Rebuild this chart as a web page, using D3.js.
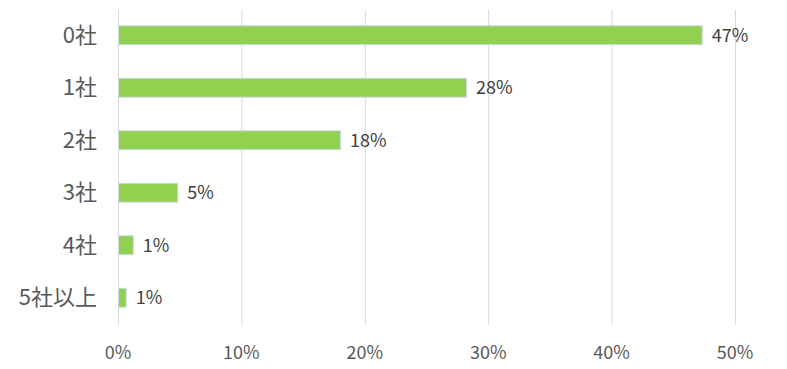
<!DOCTYPE html>
<meta charset="utf-8">
<style>
    body { margin: 0; background: #fff; }
    .grid line { stroke: #d9d9d9; stroke-width: 1; }
    .bar { fill: #92d050; stroke: #c9dbe8; stroke-width: 1; }
    .cat { font-family: "Noto Sans CJK JP", sans-serif; font-size: 22px; fill: #595959; }
    .val { font-family: "Noto Sans CJK JP", sans-serif; font-size: 18px; fill: #404040; }
    .tick-label { font-family: "Noto Sans CJK JP", sans-serif; font-size: 18px; fill: #595959; }
</style>
<body>
<script src="https://d3js.org/d3.v7.min.js"></script>
<script>
    // data
    let categories = ["0社", "1社", "2社", "3社", "4社", "5社以上"];
    let values = [47.3, 28.2, 18.0, 4.8, 1.2, 0.62];
    let valueLabels = ["47%", "28%", "18%", "5%", "1%", "1%"];
    let ticks = [0, 10, 20, 30, 40, 50];

    let width = 787, height = 369;
    let margin = { top: 10, right: 52, bottom: 44, left: 118 };

    let svg = d3.select("body").append("svg")
        .attr("width", width)
        .attr("height", height);

    let x = d3.scaleLinear()
        .domain([0, 50])
        .range([margin.left, width - margin.right]);

    let y = d3.scaleBand()
        .domain(categories)
        .range([9, 324])
        .paddingInner(0.64)
        .paddingOuter(0.32);

    svg.append("g")
        .attr("class", "grid")
        .selectAll("line")
        .data(ticks)
        .enter().append("line")
        .attr("x1", d => x(d) + 0.5)
        .attr("x2", d => x(d) + 0.5)
        .attr("y1", margin.top)
        .attr("y2", height - margin.bottom);

    svg.selectAll(".bar")
        .data(values)
        .enter().append("rect")
        .attr("class", "bar")
        .attr("x", x(0) + 0.5)
        .attr("y", (d, i) => y(categories[i]))
        .attr("width", d => x(d) - x(0))
        .attr("height", y.bandwidth());

    svg.selectAll(".val")
        .data(values)
        .enter().append("text")
        .attr("class", "val")
        .attr("x", d => x(d) + 10)
        .attr("y", (d, i) => y(categories[i]) + y.bandwidth() / 2)
        .attr("dy", "0.35em")
        .text((d, i) => valueLabels[i]);

    svg.selectAll(".cat")
        .data(categories)
        .enter().append("text")
        .attr("class", "cat")
        .attr("x", margin.left - 21)
        .attr("y", d => y(d) + y.bandwidth() / 2)
        .attr("dy", "0.35em")
        .attr("text-anchor", "end")
        .text(d => d);

    svg.selectAll(".tick-label")
        .data(ticks)
        .enter().append("text")
        .attr("class", "tick-label")
        .attr("x", d => x(d))
        .attr("y", 353)
        .attr("dy", "0.35em")
        .attr("text-anchor", "middle")
        .text(d => d + "%");
</script>
</body>
